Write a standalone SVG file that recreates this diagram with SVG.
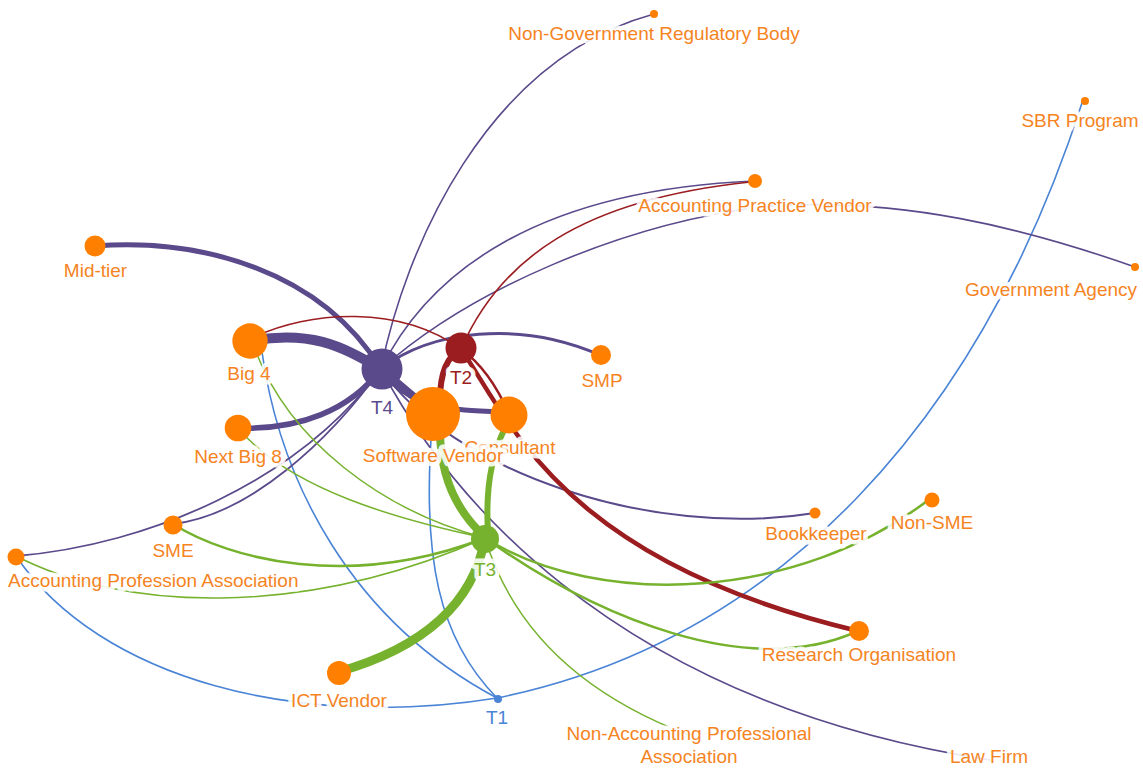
<svg xmlns="http://www.w3.org/2000/svg" width="1143" height="768" viewBox="0 0 1143 768">
<style>
.e{fill:none;stroke-linecap:round}
.p{stroke:#5b4a8b}
.r{stroke:#9b1d20}
.g{stroke:#76b22d}
.b{stroke:#4a84d6}
.n{fill:#ff8000}
text{font-family:"Liberation Sans",Arial,sans-serif;font-size:19px;fill:#f5841f;text-anchor:middle;stroke:#ffffff;stroke-width:9;stroke-opacity:0.9;stroke-linejoin:round;paint-order:stroke}
.lp{fill:#5b4a8b}.lr{fill:#9b1d20}.lg{fill:#76b22d}.lb{fill:#4a84d6}
</style>
<rect width="1143" height="768" fill="#ffffff"/>
<g id="connectors">
<path class="e b" stroke-width="1.6" d="M497,698 C780,640 980,420 1083,100"/>
<path class="e b" stroke-width="1.6" d="M16,556 C100,680 300,730 497,698"/>
<path class="e b" stroke-width="1.6" d="M262,352 C280,480 350,620 497,698"/>
<path class="e b" stroke-width="1.6" d="M433,413 C420,560 440,640 497,698"/>
<path class="e p" stroke-width="1.6" d="M381,369 C405,250 485,60 654,14"/>
<path class="e p" stroke-width="1.6" d="M381,369 C430,270 540,190 755,181"/>
<path class="e p" stroke-width="1.6" d="M381,369 C470,290 620,225 760,207 C900,195 1030,230 1135,267"/>
<path class="e p" stroke-width="2" d="M381,369 C450,470 650,540 815,513"/>
<path class="e p" stroke-width="1.6" d="M381,369 C440,480 600,700 990,760"/>
<path class="e p" stroke-width="1.8" d="M16,556 C150,545 300,480 381,369"/>
<path class="e p" stroke-width="1.8" d="M173,524 C250,515 330,440 381,369"/>
<path class="e p" stroke-width="3" d="M381,369 C430,330 520,320 600,355"/>
<path class="e p" stroke-width="5" d="M95,246 C200,238 320,270 381,369"/>
<path class="e p" stroke-width="10" d="M249,341 C310,330 340,345 381,369"/>
<path class="e p" stroke-width="5.5" d="M238,428 C300,430 350,410 381,369"/>
<path class="e p" stroke-width="5" d="M381,369 C410,410 450,410 509,412"/>
<path class="e p" stroke-width="8" d="M381,369 L433,413"/>
<path class="e r" stroke-width="1.6" d="M252,338 C310,310 400,305 461,349"/>
<path class="e r" stroke-width="1.6" d="M461,349 C500,260 580,200 750,182"/>
<path class="e r" stroke-width="4.5" d="M461,349 C510,420 560,560 858,631"/>
<path class="e r" stroke-width="2.5" d="M461,349 Q490,370 509,414"/>
<path class="e r" stroke-width="6" d="M461,349 Q440,360 440,400"/>
<path class="e g" stroke-width="1.5" d="M256,352 C290,440 380,510 485,538"/>
<path class="e g" stroke-width="1.5" d="M238,428 C290,490 400,520 485,538"/>
<path class="e g" stroke-width="2.5" d="M173,524 C230,560 350,590 485,538"/>
<path class="e g" stroke-width="1.5" d="M16,556 C120,610 300,620 485,538"/>
<path class="e g" stroke-width="2.5" d="M485,538 C600,610 800,600 931,498"/>
<path class="e g" stroke-width="2.5" d="M485,538 C600,620 750,680 858,631"/>
<path class="e g" stroke-width="1.5" d="M485,538 C510,620 570,690 689,735"/>
<path class="e g" stroke-width="8" d="M440,430 Q440,495 483,535"/>
<path class="e g" stroke-width="6" d="M505,428 Q484,470 488,532"/>
<path class="e g" stroke-width="9" d="M338,672 Q468,635 485,538"/>
</g>
<g id="node-T4"><circle cx="382" cy="369" r="20.5" fill="#5b4a8b"/><text class="lp" x="382" y="414">T4</text></g>
<g id="node-T2"><circle cx="461" cy="348" r="15.5" fill="#9b1d20"/><text class="lr" x="461" y="384">T2</text></g>
<g id="node-T3"><circle cx="485" cy="539" r="14" fill="#76b22d"/><text class="lg" x="485" y="576">T3</text></g>
<g id="node-T1"><circle cx="498" cy="699" r="4" fill="#4a84d6"/><text class="lb" x="497" y="724">T1</text></g>
<g id="node-consultant"><circle class="n" cx="509" cy="415" r="18.5"/><text x="510" y="454">Consultant</text></g>
<g id="node-software-vendor"><circle class="n" cx="433" cy="414" r="27"/><text x="433" y="462">Software Vendor</text></g>
<g id="node-big4"><circle class="n" cx="250" cy="341" r="17.7"/><text x="249" y="380">Big 4</text></g>
<g id="node-next-big8"><circle class="n" cx="238" cy="428" r="13.3"/><text x="238" y="463">Next Big 8</text></g>
<g id="node-mid-tier"><circle class="n" cx="95" cy="246" r="10.5"/><text x="95.5" y="277">Mid-tier</text></g>
<g id="node-sme"><circle class="n" cx="173" cy="525" r="9.5"/><text x="173" y="557">SME</text></g>
<g id="node-apa"><circle class="n" cx="16" cy="557" r="8.5"/><text x="8" y="587" style="text-anchor:start">Accounting Profession Association</text></g>
<g id="node-ict-vendor"><circle class="n" cx="339" cy="673" r="12"/><text x="339" y="707">ICT Vendor</text></g>
<g id="node-smp"><circle class="n" cx="601" cy="355" r="10"/><text x="602" y="387">SMP</text></g>
<g id="node-bookkeeper"><circle class="n" cx="815" cy="513" r="5.5"/><text x="816" y="540">Bookkeeper</text></g>
<g id="node-non-sme"><circle class="n" cx="932" cy="500" r="7.5"/><text x="932" y="529">Non-SME</text></g>
<g id="node-research"><circle class="n" cx="859" cy="631" r="10"/><text x="859" y="661">Research Organisation</text></g>
<g id="node-apv"><circle class="n" cx="755" cy="181" r="7"/><text x="755" y="212">Accounting Practice Vendor</text></g>
<g id="node-gov-agency"><circle class="n" cx="1135" cy="267" r="4"/><text x="1051" y="296">Government Agency</text></g>
<g id="node-sbr"><circle class="n" cx="1085" cy="101" r="4"/><text x="1080" y="127">SBR Program</text></g>
<g id="node-ngrb"><circle class="n" cx="654" cy="14" r="4"/><text x="654" y="40">Non-Government Regulatory Body</text></g>
<g id="node-napa"><text x="689" y="740">Non-Accounting Professional</text><text x="689" y="763">Association</text></g>
<g id="node-law-firm"><text x="989" y="763">Law Firm</text></g>
</svg>
